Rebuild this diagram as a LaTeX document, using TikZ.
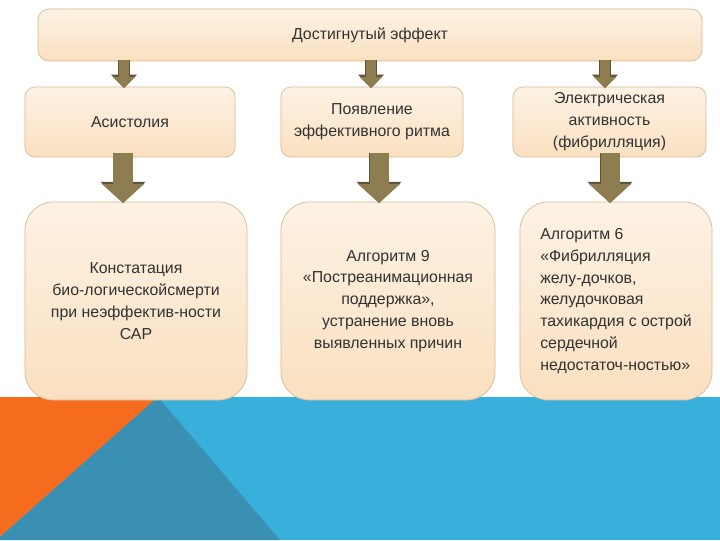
\documentclass[tikz,border=0pt]{standalone}
\usepackage{fontspec}
\setmainfont{Liberation Sans}
\usetikzlibrary{arrows.meta,calc}

\definecolor{boxtop}{RGB}{253,242,228}
\definecolor{boxbot}{RGB}{250,224,192}
\definecolor{boxedge}{RGB}{214,186,150}
\definecolor{arrfill}{RGB}{143,125,82}
\definecolor{arredge}{RGB}{96,84,56}
\definecolor{txt}{RGB}{50,50,50}
\definecolor{bandblue}{RGB}{57,176,220}
\definecolor{bandorange}{RGB}{246,108,30}
\definecolor{banddark}{RGB}{58,144,178}

\begin{document}
\begin{tikzpicture}[
    x=0.025cm, y=-0.025cm,
    box/.style={draw=boxedge, line width=0.5pt, top color=boxtop, bottom color=boxbot, align=center, text=txt, font=\fontsize{11.3}{15.6}\selectfont, inner sep=0pt},
    arrsmall/.style={arrfill, line width=0.25cm, -{Triangle[width=0.55cm,length=0.28cm]},
        preaction={draw=arredge, line width=0.25cm+1pt, -{Triangle[width=0.55cm+2pt,length=0.28cm+1.5pt]}}},
    arrbig/.style={arrfill, line width=0.475cm, -{Triangle[width=1.025cm,length=0.475cm]},
        preaction={draw=arredge, line width=0.475cm+1pt, -{Triangle[width=1.025cm+2pt,length=0.475cm+1.5pt]}}}
]
    \useasboundingbox (0,0) rectangle (720,540);

    % --- Bottom band ---
    \fill[bandblue] (0,397) rectangle (720,540);
    \fill[bandorange] (0,397) -- (158,397) -- (0,537) -- cycle;
    \fill[banddark] (158,397) -- (280,540) -- (0,540) -- (0,537) -- cycle;

    % --- Top box ---
    \node[box, rounded corners=8pt, minimum width=16.6cm, minimum height=1.3cm] (top) at (370,35) {Достигнутый эффект};

    % --- Second row ---
    \node[box, rounded corners=7pt, minimum width=5.25cm, minimum height=1.75cm] (a1) at (130,122) {Асистолия};
    \node[box, rounded corners=7pt, minimum width=4.55cm, minimum height=1.75cm] (a2) at (372,122) {Появление\\эффективного ритма};
    \node[box, rounded corners=7pt, minimum width=4.825cm, minimum height=1.75cm] (a3) at (609.5,122) {Электрическая\\активность\\(фибрилляция)};

    % --- Third row ---
    \node[box, rounded corners=20pt, minimum width=5.55cm, minimum height=4.95cm] (b1) at (136,301) {Констатация\\био-логическойсмерти\\при неэффектив-ности\\САР};
    \node[box, rounded corners=20pt, minimum width=5.35cm, minimum height=4.95cm] (b2) at (388,301) {Алгоритм 9\\«Постреанимационная\\поддержка»,\\устранение вновь\\выявленных причин};
    \node[box, rounded corners=20pt, minimum width=4.8cm, minimum height=4.95cm, align=left] (b3) at (616,301) {Алгоритм 6\\«Фибрилляция\\желу-дочков,\\желудочковая\\тахикардия с острой\\сердечной\\недостаточ-ностью»};

    % --- Arrows ---
    \coordinate (c1) at (124,0);
    \coordinate (c2) at (371,0);
    \coordinate (c3) at (605,0);
    \coordinate (d1) at (123,0);
    \coordinate (d2) at (379,0);
    \coordinate (d3) at (610,0);
    \draw[arrsmall] ([yshift=1pt]top.south -| c1) -- ([yshift=-1pt]a1.north -| c1);
    \draw[arrsmall] ([yshift=1pt]top.south -| c2) -- ([yshift=-1pt]a2.north -| c2);
    \draw[arrsmall] ([yshift=1pt]top.south -| c3) -- ([yshift=-1pt]a3.north -| c3);
    \draw[arrbig] ([yshift=3pt]a1.south -| d1) -- ([yshift=-1pt]b1.north -| d1);
    \draw[arrbig] ([yshift=3pt]a2.south -| d2) -- ([yshift=-1pt]b2.north -| d2);
    \draw[arrbig] ([yshift=3pt]a3.south -| d3) -- ([yshift=-1pt]b3.north -| d3);
\end{tikzpicture}
\end{document}
